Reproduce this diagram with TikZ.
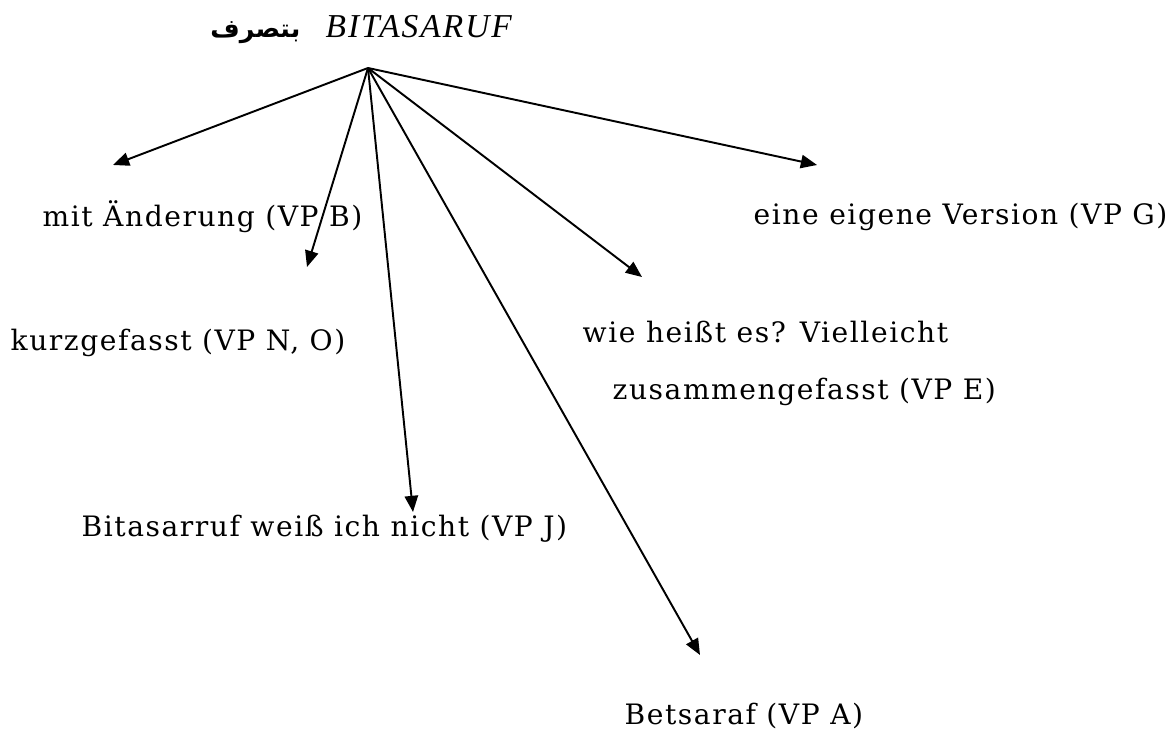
\documentclass[tikz,border=0pt]{standalone}
\usepackage{fontspec}
\setmainfont[LetterSpace=5.5]{DejaVu Serif}
\newfontfamily\arabicfont[Script=Arabic]{DejaVu Sans}
\newfontfamily\titlefont[LetterSpace=6]{Liberation Serif}
\TeXXeTstate=1
\usetikzlibrary{arrows.meta}

\begin{document}
\begin{tikzpicture}[x=0.01cm, y=-0.01cm,
	txt/.style={anchor=base west, inner sep=0pt, font=\fontsize{8pt}{9pt}\selectfont},
	pfeil/.style={-{Triangle[length=4.6pt, width=3.8pt]}, line width=0.55pt}]
\useasboundingbox (0, 0) rectangle (1176, 731);
% title
\node[anchor=base east, inner sep=0pt] (arab) at (301, 38)
	{\arabicfont\bfseries\fontsize{7.2pt}{11pt}\selectfont\beginR بتصرف\endR};
\node[anchor=base west, inner sep=0pt] (titel) at (325, 38)
	{\titlefont\itshape\fontsize{9.5pt}{11pt}\selectfont BITASARUF};
% arrows
\coordinate (wurzel) at (368, 68);
\coordinate (zB) at (113, 165);
\coordinate (zN) at (307, 267);
\coordinate (zJ) at (413, 512);
\coordinate (zA) at (700, 655);
\coordinate (zE) at (642, 277);
\coordinate (zG) at (817, 165);
\foreach \z in {zB, zN, zJ, zA, zE, zG}
	\draw[pfeil] (wurzel) -- (\z);
% labels
\node[txt] (tB) at (42, 227) {mit Änderung (VP B)};
\node[txt] (tG) at (753, 225) {eine eigene Version (VP G)};
\node[txt] (tN) at (10, 351) {kurzgefasst (VP N, O)};
\node[txt] (tE1) at (582, 343) {wie heißt es? Vielleicht};
\node[txt] (tE2) at (612, 400) {zusammengefasst (VP E)};
\node[txt] (tJ) at (81, 537) {Bitasarruf weiß ich nicht (VP J)};
\node[txt] (tA) at (624, 724) {Betsaraf (VP A)};
\end{tikzpicture}
\end{document}
